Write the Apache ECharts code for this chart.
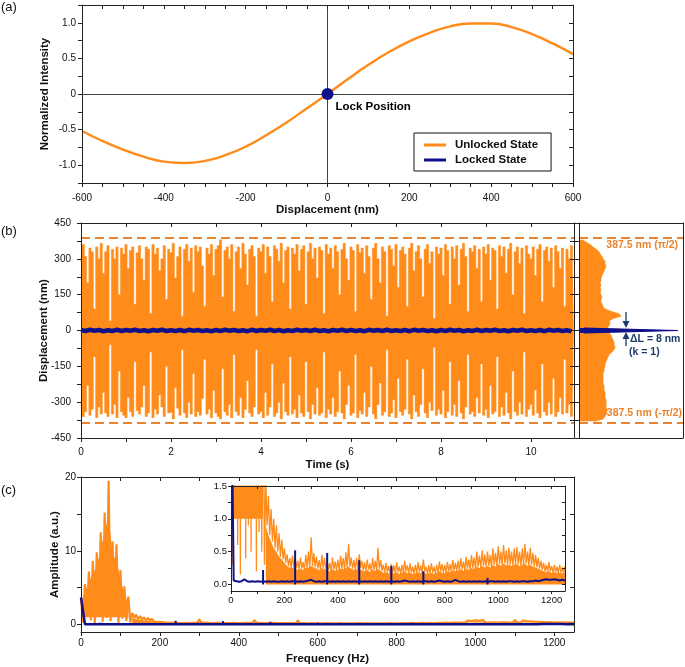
<!DOCTYPE html>
<html><head><meta charset="utf-8">
<script src="https://cdn.jsdelivr.net/npm/echarts@6/dist/echarts.min.js"></script>
<style>html,body{margin:0;padding:0;background:#fff}#c{width:685px;height:667px}</style>
</head><body><div id="c"></div>
<script>
const ORANGE = '#FF8C1A';
const NAVY = '#10108A';
const ANNOT_ORANGE = '#E8842E';
const ANNOT_NAVY = '#1E3A6A';
const FONT = "'Liberation Sans', Arial, sans-serif";

// ---------- (a) ----------
const aDisp = [-600,-550,-500,-450,-400,-350,-300,-250,-200,-150,-100,-50,0,50,100,150,200,250,300,350,400,450,500,550,600];
const aIntensity = [-0.52,-0.66,-0.78,-0.88,-0.95,-0.97,-0.94,-0.86,-0.74,-0.58,-0.40,-0.20,0,0.21,0.41,0.59,0.74,0.86,0.95,0.99,0.99,0.94,0.84,0.71,0.56];
const lockPoint = [0, 0];
const aXLabels = [-600,-400,-200,0,200,400,600];
const aYLabels = [-1,-0.5,0,0.5,1];

// ---------- (b) ----------
const bStep = 0.05;
const bTop = [
285,360,310,200,345,330,90,350,300,365,
240,330,355,40,340,300,350,150,345,320,
360,260,335,350,110,325,355,300,210,350,
340,70,360,320,345,250,300,355,130,340,
325,365,220,310,350,60,340,360,290,345,
160,355,330,350,270,100,345,320,360,230,
340,355,380,140,335,350,300,360,80,330,
350,260,365,320,190,340,355,310,60,345,
330,360,240,350,310,120,355,340,290,365,
200,335,350,90,345,320,360,250,340,355,
110,330,365,300,345,220,350,335,70,360,
320,345,260,355,330,150,340,365,300,210,
350,335,80,360,325,345,240,355,310,130,
345,365,300,200,350,330,60,355,340,270,
360,180,335,350,320,100,345,365,250,330,
355,300,140,340,360,280,330,50,350,320,
345,230,360,335,110,350,300,355,190,340,
365,310,80,345,330,355,260,340,120,350,
320,360,210,345,335,90,355,310,350,240,
340,365,150,330,350,280,345,70,355,320,
300,350,230,340,360,120,335,350,290,345,
180,355,330,260,345,100,340,300,355,290];
const bBottom = [
-300,-360,-340,-230,-355,-330,-110,-365,-320,-350,
-260,-345,-360,-60,-350,-310,-365,-170,-340,-355,
-365,-280,-340,-360,-130,-335,-350,-320,-230,-360,
-345,-90,-365,-330,-350,-270,-320,-360,-150,-345,
-340,-370,-240,-325,-355,-80,-345,-365,-300,-350,
-180,-360,-340,-355,-285,-120,-350,-330,-365,-250,
-345,-360,-370,-160,-340,-355,-310,-365,-100,-340,
-355,-280,-365,-330,-210,-345,-360,-320,-80,-350,
-340,-365,-260,-355,-320,-140,-360,-345,-300,-370,
-220,-340,-355,-110,-350,-330,-365,-270,-345,-360,
-130,-340,-370,-310,-350,-240,-355,-345,-90,-365,
-330,-350,-280,-360,-340,-170,-345,-370,-310,-230,
-355,-345,-100,-365,-335,-350,-260,-360,-320,-150,
-350,-370,-310,-220,-355,-340,-80,-360,-345,-290,
-365,-200,-340,-355,-330,-120,-350,-370,-270,-340,
-360,-310,-160,-345,-365,-300,-335,-70,-355,-330,
-350,-250,-365,-340,-130,-355,-310,-360,-210,-345,
-370,-320,-100,-350,-340,-360,-280,-345,-140,-355,
-330,-365,-230,-350,-340,-110,-360,-320,-355,-260,
-345,-370,-170,-340,-355,-300,-350,-90,-360,-330,
-310,-355,-250,-345,-365,-140,-340,-355,-300,-350,
-200,-360,-340,-280,-350,-120,-345,-310,-360,-300];
const bNavyStep = 0.1;
const bNavy = [
2,-2,3,-1,2,-3,1,-2,3,-2,2,-1,3,-2,1,-3,2,-1,3,-2,
1,-2,2,-3,3,-1,2,-2,1,-3,2,-2,3,-1,2,-2,1,-3,3,-2,
2,-1,3,-2,2,-3,1,-2,3,-1,2,-2,3,-2,1,-3,2,-1,3,-2,
2,-2,1,-3,3,-1,2,-2,3,-2,1,-2,2,-3,3,-1,2,-2,1,-3,
2,-2,3,-1,2,-3,1,-2,3,-2,2,-1,3,-2,1,-3,2,-1,3,-2,
1,-2,2,-3,3,-1,2,-2,1,-3];
const bXMax = 10.956;
const bXLabels = [0,2,4,6,8,10];
const bYLabels = [-450,-300,-150,0,150,300,450];
const bDashLevels = [387.5, -387.5];
const histBins = [-450,-440,-430,-420,-410,-400,
-390,-380,-370,-360,-350,-340,-330,-320,-310,-300,
-290,-280,-270,-260,-250,-240,-230,-220,-210,-200,
-190,-180,-170,-160,-150,-140,-130,-120,-110,-100,
-90,-80,-70,-60,-50,-40,-30,-20,-10,0,
10,20,30,40,50,60,70,80,90,100,
110,120,130,140,150,160,170,180,190,200,
210,220,230,240,250,260,270,280,290,300,
310,320,330,340,350,360,370,380,390,400,
410,420,430,440,450];
const histOrange = [null,null,null,null,null,null,
null,16,24,26,27,28,28,27,27,27,
27,26,26,26,25,25,25,24,24,24,
24,24,25,25,26,26,27,28,29,30,
33,35,36,35,35,34,33,32,30,20,
28,30,31,30,34,42,40,32,26,24,
23,22,22,23,22,21,22,21,22,21,
22,22,23,24,25,26,27,26,26,24,
23,21,20,17,14,11,7,3,null,null,
null,null,null,null,null];
const histNavy = [null,null,null,null,null,null,
null,null,null,null,null,null,null,null,null,null,
null,null,null,null,null,null,null,null,null,null,
null,null,null,null,null,null,null,null,null,null,
null,null,null,null,null,null,null,null,5,99,
5,null,null,null,null,null,null,null,null,null,
null,null,null,null,null,null,null,null,null,null,
null,null,null,null,null,null,null,null,null,null,
null,null,null,null,null,null,null,null,null,null,
null,null,null,null,null];

// ---------- (c) ----------
const SPEC_STEP = 10;
const specHi = [
3.6,5.5,7.2,8.6,9.8,12.5,15.2,19.5,11.3,10.9,
7.4,5.2,3.8,1.6,1.35,1.15,1.0,0.9,0.78,0.68,
0.55,0.46,0.4,0.44,0.42,0.36,0.41,0.34,0.45,0.5,
0.72,0.48,0.42,0.37,0.45,0.4,0.36,0.33,0.41,0.35,
0.38,0.44,0.4,0.49,0.62,0.41,0.37,0.4,0.46,0.36,
0.34,0.38,0.32,0.4,0.36,0.56,0.37,0.3,0.33,0.28,
0.31,0.29,0.34,0.27,0.3,0.36,0.29,0.32,0.27,0.3,
0.34,0.29,0.38,0.27,0.29,0.32,0.27,0.3,0.35,0.31,
0.3,0.34,0.31,0.37,0.33,0.36,0.4,0.35,0.42,0.38,
0.45,0.41,0.5,0.44,0.52,0.46,0.5,0.45,0.55,0.48,
0.58,0.5,0.6,0.52,0.56,0.5,0.55,0.57,0.5,0.55,
0.62,0.5,0.56,0.48,0.45,0.4,0.36,0.33,0.3,0.34,
0.28,0.3,0.27,0.3,0.26,0.28];
// low points of the dense oscillation below 130 Hz
const specLo = [0.3,1.0,0.6,0.15,1.3,0.4,0.9,0.5,1.4,0.2,0.8,0.5,0.3];
// solid body of the low-frequency hump (0-120 Hz), filled down to BAND_BASE
const BAND_BASE = 1.0;
const bandHigh = [3.0,4.4,5.8,6.8,7.9,10.2,12.6,14.8,9.4,8.8,6.0,4.1,2.9];
// solid (filled) floor of the spectrum above 130 Hz
const specFloor = [
null,null,null,null,null,null,null,null,null,null,
null,null,null,0.9,0.75,0.65,0.55,0.5,0.42,0.38,
0.33,0.28,0.25,0.26,0.25,0.22,0.24,0.22,0.25,0.26,
0.28,0.26,0.24,0.22,0.25,0.23,0.22,0.2,0.23,0.21,
0.22,0.24,0.23,0.25,0.27,0.24,0.22,0.23,0.25,0.21,
0.2,0.22,0.19,0.22,0.21,0.24,0.21,0.18,0.19,0.17,
0.18,0.17,0.19,0.16,0.18,0.2,0.17,0.18,0.16,0.17,
0.19,0.17,0.2,0.16,0.17,0.18,0.16,0.18,0.2,0.18,
0.18,0.2,0.19,0.21,0.2,0.21,0.23,0.21,0.24,0.22,
0.25,0.24,0.27,0.25,0.28,0.26,0.28,0.26,0.3,0.27,
0.31,0.28,0.32,0.29,0.3,0.28,0.3,0.31,0.28,0.3,
0.32,0.28,0.3,0.27,0.26,0.24,0.22,0.2,0.19,0.2,
0.18,0.19,0.17,0.18,0.17,0.18];
const navyBase = [
3.7,0.06,0.05,0.04,0.05,0.08,0.05,0.04,0.05,0.04,
0.05,0.04,0.05,0.04,0.05,0.04,0.05,0.04,0.04,0.05,
0.04,0.05,0.04,0.05,0.05,0.04,0.05,0.04,0.05,0.06,
0.07,0.05,0.04,0.05,0.04,0.05,0.05,0.04,0.05,0.04,
0.05,0.04,0.05,0.04,0.05,0.04,0.05,0.04,0.05,0.04,
0.05,0.04,0.05,0.04,0.05,0.04,0.05,0.04,0.05,0.04,
0.05,0.04,0.05,0.04,0.05,0.06,0.05,0.04,0.05,0.04,
0.05,0.04,0.05,0.05,0.04,0.05,0.04,0.05,0.06,0.05,
0.04,0.05,0.04,0.05,0.07,0.05,0.04,0.05,0.04,0.05,
0.04,0.05,0.04,0.05,0.04,0.05,0.04,0.05,0.05,0.04,
0.05,0.04,0.05,0.04,0.05,0.05,0.04,0.05,0.04,0.05,
0.05,0.04,0.05,0.05,0.06,0.05,0.06,0.07,0.08,0.07,
0.07,0.08,0.07,0.06,0.07,0.06];
const spikeFreq = [120,240,360,480,600,720,960];
const spikeAmp = [0.22,0.52,0.48,0.37,0.28,0.2,0.1];
const cXMax = 1250;
const cXLabels = [0,200,400,600,800,1000,1200];
const cYLabels = [0,10,20];
const insetYLabels = [0,0.5,1,1.5];

// ---------- build ----------
function range(a, b, s) { const r = []; for (let v = a; v <= b + 1e-9; v += s) r.push(+v.toFixed(6)); return r; }
const LC = '#222';
function ax(extra) {
  return Object.assign({
    type: 'value', z: 5,
    nameMoveOverlap: false,
    splitLine: { show: false },
    axisLine: { show: true, onZero: false, lineStyle: { color: LC, width: 1 } },
    axisTick: { show: false },
    axisLabel: { show: false }
  }, extra);
}
function tk(values, inside, len) { return { show: true, inside: inside, length: len || 4, customValues: values, lineStyle: { color: LC, width: 1 } }; }
function lb(values, margin, fmt, size) { return { show: true, customValues: values, margin: margin, fontFamily: FONT, fontSize: size || 10, color: '#111', formatter: fmt || (v => String(v)) }; }
const nameStyle = { fontFamily: FONT, fontWeight: 'bold', fontSize: 11.5, color: '#111' };

const grids = [
  { left: 82, top: 5, width: 491, height: 178 },
  { left: 81, top: 223, width: 493, height: 215 },
  { left: 579, top: 223, width: 104, height: 215 },
  { left: 81, top: 477, width: 493, height: 155 },
  { left: 231, top: 486, width: 334, height: 105, show: true, backgroundColor: '#fff', borderWidth: 0 }
];

const xAxes = [
  ax({ gridIndex: 0, min: -600, max: 600, position: 'bottom', axisTick: tk(range(-600,600,50), false, 4), axisLabel: lb(aXLabels, 10),
       name: 'Displacement (nm)', nameLocation: 'middle', nameGap: 21, nameTextStyle: nameStyle }),
  ax({ gridIndex: 0, min: -600, max: 600, position: 'top', axisTick: tk(range(-600,600,50), true, 4) }),
  ax({ gridIndex: 1, min: 0, max: bXMax, position: 'bottom', axisTick: tk(range(0,10,1), false, 4), axisLabel: lb(bXLabels, 9),
       name: 'Time (s)', nameLocation: 'middle', nameGap: 21, nameTextStyle: nameStyle }),
  ax({ gridIndex: 1, min: 0, max: bXMax, position: 'top', axisTick: tk(range(0,10,1), true, 4) }),
  ax({ gridIndex: 2, min: 0, max: 104, position: 'bottom' }),
  ax({ gridIndex: 2, min: 0, max: 104, position: 'top' }),
  ax({ gridIndex: 3, min: 0, max: cXMax, position: 'bottom', axisTick: tk(range(0,1200,100), false, 4), axisLabel: lb(cXLabels, 6),
       name: 'Frequency (Hz)', nameLocation: 'middle', nameGap: 21, nameTextStyle: nameStyle }),
  ax({ gridIndex: 3, min: 0, max: cXMax, position: 'top', axisTick: tk(range(0,1200,100), true, 4) }),
  ax({ gridIndex: 4, min: 0, max: cXMax, position: 'bottom', axisTick: tk(range(0,1200,100), false, 3), axisLabel: lb(cXLabels, 4, null, 9.5) }),
  ax({ gridIndex: 4, min: 0, max: cXMax, position: 'top', axisTick: tk(range(0,1200,100), true, 3) })
];

const yAxes = [
  ax({ gridIndex: 0, min: -1.25, max: 1.25, position: 'left', axisTick: tk(range(-1.25,1.25,0.25), false, 4),
       axisLabel: lb(aYLabels, 6, v => v === 0 ? '0' : v.toFixed(1)),
       name: 'Normalized Intensity', nameLocation: 'middle', nameRotate: 90, nameGap: 31, nameTextStyle: nameStyle }),
  ax({ gridIndex: 0, min: -1.25, max: 1.25, position: 'right', axisTick: tk(range(-1.25,1.25,0.25), true, 4) }),
  ax({ gridIndex: 1, min: -450, max: 450, position: 'left', axisTick: tk(range(-450,450,75), false, 4), axisLabel: lb(bYLabels, 10),
       name: 'Displacement (nm)', nameLocation: 'middle', nameRotate: 90, nameGap: 31, nameTextStyle: nameStyle }),
  ax({ gridIndex: 1, min: -450, max: 450, position: 'right', axisTick: tk(range(-450,450,75), true, 4) }),
  ax({ gridIndex: 2, min: -450, max: 450, position: 'left', axisTick: tk(range(-450,450,75), false, 4) }),
  ax({ gridIndex: 2, min: -450, max: 450, position: 'right' }),
  { type: 'category', gridIndex: 2, position: 'left', data: histBins.map(String), boundaryGap: false, show: false },
  ax({ gridIndex: 3, min: -1, max: 20, position: 'left', axisTick: tk([0,5,10,15,20], false, 4), axisLabel: lb(cYLabels, 5),
       name: 'Amplitude (a.u.)', nameLocation: 'middle', nameRotate: 90, nameGap: 20, nameTextStyle: nameStyle }),
  ax({ gridIndex: 3, min: -1, max: 20, position: 'right', axisTick: tk([0,5,10,15,20], true, 4) }),
  ax({ gridIndex: 4, min: -0.1, max: 1.5, position: 'left', axisTick: tk(range(0,1.5,0.25), false, 3), axisLabel: lb(insetYLabels, 4, v => v.toFixed(1), 9.5) }),
  ax({ gridIndex: 4, min: -0.1, max: 1.5, position: 'right', axisTick: tk(range(0,1.5,0.25), true, 3) })
];

const dashLine = {
  silent: true, symbol: ['none','none'], label: { show: false },
  lineStyle: { type: [9,5], width: 2, color: ANNOT_ORANGE },
  data: bDashLevels.map(v => ({ yAxis: v }))
};

const cOrange = [];
specHi.forEach((v, i) => {
  const f = i * SPEC_STEP;
  cOrange.push([f, v]);
  if (f + SPEC_STEP / 2 <= cXMax) cOrange.push([f + SPEC_STEP / 2, i < specLo.length ? specLo[i] : specFloor[i]]);
});
const cFloor = specFloor.map((v, i) => [i * SPEC_STEP, v]);
const cBand = bandHigh.map((v, i) => [i * SPEC_STEP, v]);
const cNavy = navyBase.map((v, i) => [i * SPEC_STEP, v]);
const cSpikes = spikeFreq.map((f, i) => [f, spikeAmp[i]]);

function specSeries(xi, yi, lw, navyW) {
  return [
    { name: 'Unlocked State', type: 'line', xAxisIndex: xi, yAxisIndex: yi, data: cBand, symbol: 'none', color: ORANGE,
      lineStyle: { width: 0 }, areaStyle: { color: ORANGE, opacity: 1, origin: BAND_BASE } },
    { name: 'Unlocked State', type: 'line', xAxisIndex: xi, yAxisIndex: yi, data: cFloor, symbol: 'none', color: ORANGE,
      lineStyle: { width: 0 }, areaStyle: { color: ORANGE, opacity: 1 } },
    { name: 'Unlocked State', type: 'line', xAxisIndex: xi, yAxisIndex: yi, data: cOrange,
      symbol: 'none', color: ORANGE, lineStyle: { width: lw, color: ORANGE } },
    { name: 'Locked State', type: 'line', xAxisIndex: xi, yAxisIndex: yi, data: cNavy,
      symbol: 'none', color: NAVY, lineStyle: { width: navyW, color: NAVY }, z: 4 },
    { name: 'Locked State', type: 'bar', xAxisIndex: xi, yAxisIndex: yi, data: cSpikes, barWidth: 2, color: NAVY, itemStyle: { color: NAVY }, z: 4 }
  ];
}

const series = [
  // (a)
  { name: 'Unlocked State', type: 'line', xAxisIndex: 0, yAxisIndex: 0, data: aDisp.map((d, i) => [d, aIntensity[i]]),
    smooth: true, symbol: 'none', color: ORANGE, lineStyle: { width: 2.4, color: ORANGE }, z: 3,
    markLine: { silent: true, symbol: ['none','none'], label: { show: false }, lineStyle: { type: 'solid', width: 1, color: '#444' },
      data: [{ xAxis: 0 }, { yAxis: 0 }] } },
  { name: 'Locked State', type: 'scatter', xAxisIndex: 0, yAxisIndex: 0, data: [lockPoint], symbolSize: 12, color: NAVY, z: 6,
    itemStyle: { color: NAVY, opacity: 1 },
    label: { show: true, formatter: 'Lock Position', position: [14, 19], align: 'left', verticalAlign: 'middle',
      fontFamily: FONT, fontWeight: 'bold', fontSize: 11.5, color: '#000', opacity: 1 } },
  // (b) main
  { name: 'Unlocked State', type: 'line', xAxisIndex: 2, yAxisIndex: 2, data: bTop.map((v, i) => [i * bStep, v]), step: 'middle',
    symbol: 'none', color: ORANGE, lineStyle: { width: 0.5, color: ORANGE }, areaStyle: { color: ORANGE, opacity: 1 }, markLine: dashLine },
  { name: 'Unlocked State', type: 'line', xAxisIndex: 2, yAxisIndex: 2, data: bBottom.map((v, i) => [i * bStep, v]), step: 'middle',
    symbol: 'none', color: ORANGE, lineStyle: { width: 0.5, color: ORANGE }, areaStyle: { color: ORANGE, opacity: 1 } },
  { name: 'Locked State', type: 'line', xAxisIndex: 2, yAxisIndex: 2, data: bNavy.map((v, i) => [i * bNavyStep, v]),
    symbol: 'none', color: NAVY, lineStyle: { width: 4.5, color: NAVY }, z: 4 },
  // (b) side histogram
  { name: 'Unlocked State', type: 'line', xAxisIndex: 4, yAxisIndex: 6, data: histOrange,
    symbol: 'none', color: ORANGE, lineStyle: { width: 0.8, color: ORANGE }, areaStyle: { color: ORANGE, opacity: 1 } },
  { name: 'Locked State', type: 'line', xAxisIndex: 4, yAxisIndex: 6, data: histNavy,
    symbol: 'none', color: NAVY, lineStyle: { width: 1.2, color: NAVY }, areaStyle: { color: NAVY, opacity: 1 }, z: 4 },
  { type: 'line', xAxisIndex: 4, yAxisIndex: 4, data: [[0, 0]], symbol: 'none', showSymbol: false,
    lineStyle: { opacity: 0 }, markLine: dashLine }
].concat(specSeries(6, 7, 2.2, 2.5), specSeries(8, 9, 1.3, 2));

function txt(left, top, text, opts) {
  return { type: 'text', left: left, top: top, z: 20, style: Object.assign({ text: text, font: '13px ' + FONT, fill: '#111' }, opts || {}) };
}
const boldS = (size, color) => ({ font: 'bold ' + size + 'px ' + FONT, fill: color });
const graphic = [
  txt(1, 1, '(a)'), txt(1, 225, '(b)'), txt(1, 484, '(c)'),
  { type: 'text', right: 7, top: 240, z: 20, style: Object.assign({ text: '387.5 nm (\u03c0/2)' }, boldS(10.5, ANNOT_ORANGE)) },
  { type: 'text', right: 3, top: 408, z: 20, style: Object.assign({ text: '-387.5 nm (-\u03c0/2)' }, boldS(10.5, ANNOT_ORANGE)) },
  txt(630, 334, '\u0394L = 8 nm', boldS(10.5, ANNOT_NAVY)),
  txt(629, 347, '(k = 1)', boldS(10.5, ANNOT_NAVY)),
  { type: 'line', z: 20, shape: { x1: 626, y1: 312, x2: 626, y2: 322 }, style: { stroke: ANNOT_NAVY, lineWidth: 1.3 } },
  { type: 'polygon', z: 20, shape: { points: [[622.5, 321], [629.5, 321], [626, 328]] }, style: { fill: ANNOT_NAVY } },
  { type: 'line', z: 20, shape: { x1: 626, y1: 346, x2: 626, y2: 338 }, style: { stroke: ANNOT_NAVY, lineWidth: 1.3 } },
  { type: 'polygon', z: 20, shape: { points: [[622.5, 339], [629.5, 339], [626, 332]] }, style: { fill: ANNOT_NAVY } }
];

const chart = echarts.init(document.getElementById('c'), null, { renderer: 'canvas' });
chart.setOption({
  animation: false,
  backgroundColor: '#fff',
  textStyle: { fontFamily: FONT },
  grid: grids,
  xAxis: xAxes,
  yAxis: yAxes,
  legend: { left: 414, top: 133, orient: 'vertical', selectedMode: false,
    data: [{ name: 'Unlocked State', icon: 'rect' }, { name: 'Locked State', icon: 'rect' }],
    itemWidth: 22, itemHeight: 3, itemGap: 3, padding: [6, 13, 5, 10],
    borderColor: '#111', borderWidth: 1,
    textStyle: { fontFamily: FONT, fontWeight: 'bold', fontSize: 11.5, color: '#111', padding: [0, 0, 0, 4] } },
  series: series,
  graphic: graphic
});
</script></body></html>
